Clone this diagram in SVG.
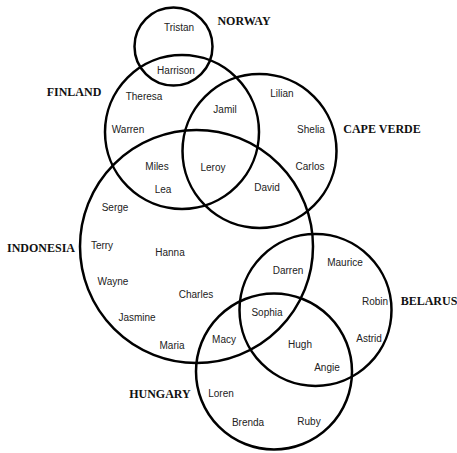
<svg xmlns="http://www.w3.org/2000/svg" width="457" height="453" viewBox="0 0 457 453">
<style>
.c{fill:none;stroke:#000;stroke-width:2.5}
.n{font-family:"Liberation Sans",Arial,sans-serif;font-size:10px;fill:#222;text-anchor:middle;dominant-baseline:central}
.k{font-family:"Liberation Serif","Times New Roman",serif;font-size:12px;font-weight:bold;fill:#111;text-anchor:middle;dominant-baseline:central}
</style>
<rect width="457" height="453" fill="#fff"/>
<g id="connectors"></g>
<g id="norway">
<circle class="c" cx="173.5" cy="46.5" r="39"/>
<text class="k" x="244" y="21">NORWAY</text>
<text class="n" x="179" y="27">Tristan</text>
</g>
<g id="finland">
<circle class="c" cx="182" cy="132" r="77"/>
<text class="k" x="74" y="92">FINLAND</text>
<text class="n" x="176" y="70">Harrison</text>
<text class="n" x="144" y="96">Theresa</text>
<text class="n" x="128" y="129">Warren</text>
<text class="n" x="157" y="166">Miles</text>
<text class="n" x="163" y="189">Lea</text>
</g>
<g id="capeverde">
<circle class="c" cx="259.5" cy="151" r="77"/>
<text class="k" x="382" y="129">CAPE VERDE</text>
<text class="n" x="225" y="109">Jamil</text>
<text class="n" x="282" y="93">Lilian</text>
<text class="n" x="311" y="129">Shelia</text>
<text class="n" x="310" y="166">Carlos</text>
<text class="n" x="267" y="187">David</text>
<text class="n" x="213" y="167">Leroy</text>
</g>
<g id="indonesia">
<circle class="c" cx="196.5" cy="246.5" r="116.5"/>
<text class="k" x="41" y="248">INDONESIA</text>
<text class="n" x="115" y="207">Serge</text>
<text class="n" x="102" y="245">Terry</text>
<text class="n" x="170" y="252">Hanna</text>
<text class="n" x="113" y="281">Wayne</text>
<text class="n" x="196" y="294">Charles</text>
<text class="n" x="137" y="317">Jasmine</text>
<text class="n" x="172" y="345">Maria</text>
<text class="n" x="224" y="339">Macy</text>
</g>
<g id="belarus">
<circle class="c" cx="315.5" cy="310" r="76"/>
<text class="k" x="429" y="301">BELARUS</text>
<text class="n" x="288" y="270">Darren</text>
<text class="n" x="345" y="262">Maurice</text>
<text class="n" x="375" y="301">Robin</text>
<text class="n" x="369" y="338">Astrid</text>
<text class="n" x="267" y="312">Sophia</text>
<text class="n" x="300" y="344">Hugh</text>
<text class="n" x="327" y="367">Angie</text>
</g>
<g id="hungary">
<circle class="c" cx="274" cy="371.5" r="78"/>
<text class="k" x="160" y="394">HUNGARY</text>
<text class="n" x="221" y="393">Loren</text>
<text class="n" x="248" y="422">Brenda</text>
<text class="n" x="309" y="421">Ruby</text>
</g>
</svg>
